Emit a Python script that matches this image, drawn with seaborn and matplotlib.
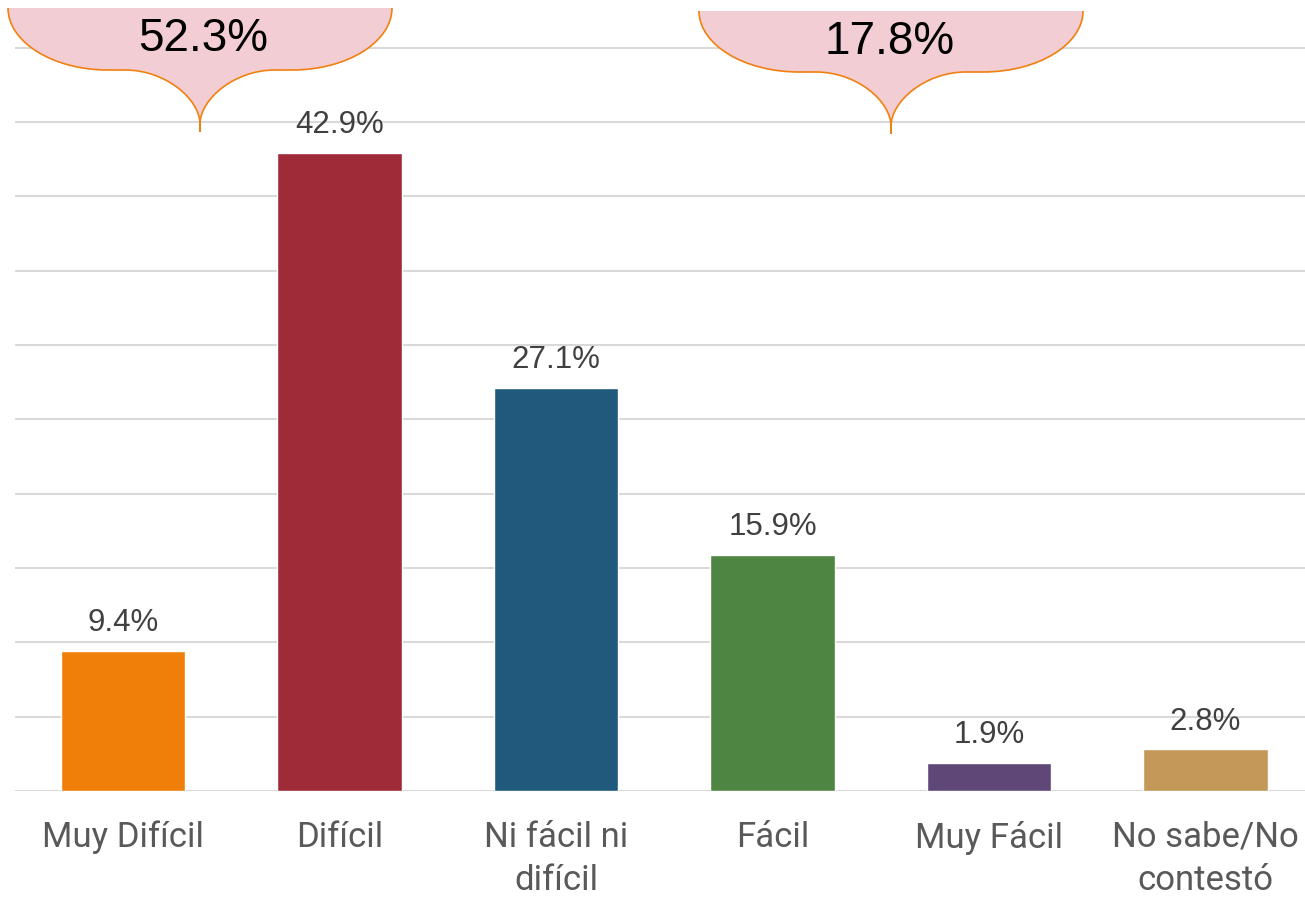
import numpy as np
import pandas as pd
import matplotlib.pyplot as plt
import seaborn as sns
from matplotlib.path import Path
from matplotlib.patches import PathPatch

# datos
categorias = ["Muy Difícil", "Difícil", "Ni fácil ni\ndifícil", "Fácil", "Muy Fácil", "No sabe/No\ncontestó"]
porcentajes = [9.4, 42.9, 27.1, 15.9, 1.9, 2.8]
colores = ["#F07F09", "#A02B38", "#1F5A7D", "#4E8542", "#5F4778", "#C39858"]
totales_callout = ["52.3%", "17.8%"]

df = pd.DataFrame({"cat": categorias, "pct": porcentajes})

sns.set_style("white")
plt.rcParams['font.family'] = ['Liberation Sans', 'DejaVu Sans']

W, H = 1305, 897
fig = plt.figure(figsize=(W / 100, H / 100), dpi=100)
ax = fig.add_axes([15 / W, 106 / H, 1290 / W, 791 / H])

sns.barplot(data=df, x="cat", y="pct", hue="cat", palette=colores,
            width=0.575, legend=False, ax=ax, zorder=3, saturation=1)

ax.set_xlim(-0.5, 5.46)
ax.set_ylim(0, 53.2)
ax.set_yticks(np.arange(0, 51, 5))
ax.yaxis.grid(True, color="#D9D9D9", linewidth=1.5)
ax.tick_params(axis="y", left=False, labelleft=False)
ax.tick_params(axis="x", bottom=False, pad=18)
for s in ax.spines.values():
    s.set_visible(False)
ax.set_xlabel("")
ax.set_ylabel("")
for lab in ax.get_xticklabels():
    lab.set_fontfamily(['Roboto', 'DejaVu Sans'])
    lab.set_fontsize(25)
    lab.set_color("#595959")
    lab.set_linespacing(1.4)

# etiquetas de barras
for i, v in enumerate(porcentajes):
    ax.annotate(f"{v}%", (i, v), xytext=(0, 20), textcoords="offset points",
                ha="center", va="center", fontsize=22.5, color="#404040")


# llamadas tipo llave (en pixeles de la imagen)
def llave(L, R, T, S, tx, ty, a=100, b=75):
    k = 0.55
    pts = [
        (L, T),
        (L, T + k * (S - T)), (L + a * (1 - k), S), (L + a, S),
        (tx - b, S),
        (tx - b * (1 - k), S), (tx, S + k * (ty - 8 - S)), (tx, ty - 8),
        (tx, ty),
        (tx, ty - 8),
        (tx, S + k * (ty - 8 - S)), (tx + b * (1 - k), S), (tx + b, S),
        (R - a, S),
        (R - a * (1 - k), S), (R, T + k * (S - T)), (R, T),
    ]
    codes = [Path.MOVETO,
             Path.CURVE4, Path.CURVE4, Path.CURVE4,
             Path.LINETO,
             Path.CURVE4, Path.CURVE4, Path.CURVE4,
             Path.LINETO, Path.LINETO,
             Path.CURVE4, Path.CURVE4, Path.CURVE4,
             Path.LINETO,
             Path.CURVE4, Path.CURVE4, Path.CURVE4]
    pts = [(x / W, 1 - y / H) for x, y in pts]
    fig.add_artist(PathPatch(Path(pts + [pts[0]], codes + [Path.LINETO]),
                             transform=fig.transFigure, facecolor="#F2CED4",
                             edgecolor="none", zorder=5))
    fig.add_artist(PathPatch(Path(pts, codes), transform=fig.transFigure,
                             facecolor="none", edgecolor="#F08010",
                             linewidth=1.2, zorder=6))


llave(8, 392, 8, 70, 200, 132)
llave(699, 1083, 11, 72, 891, 134)
fig.text(203 / W, 1 - 39 / H, totales_callout[0], ha="center", va="center",
         fontsize=33, color="black", zorder=7)
fig.text(890 / W, 1 - 42 / H, totales_callout[1], ha="center", va="center",
         fontsize=33, color="black", zorder=7)

plt.savefig("out.png", dpi=100)
